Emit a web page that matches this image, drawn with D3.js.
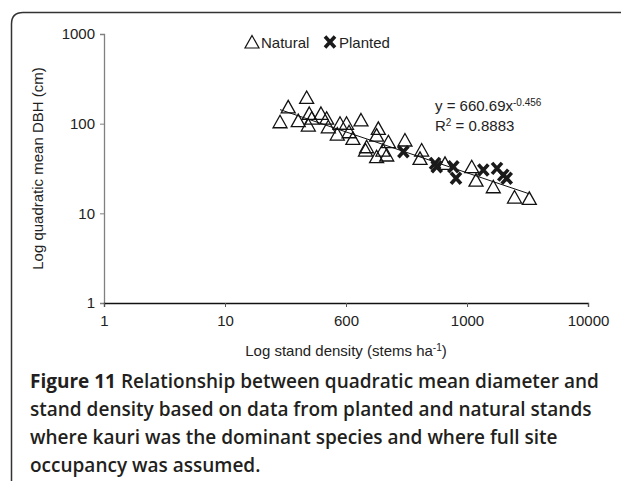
<!DOCTYPE html>
<html>
<head>
<meta charset="utf-8">
<script src="https://cdn.jsdelivr.net/npm/d3@7/dist/d3.min.js"></script>
<style>
  body { margin: 0; background: #fff; }
  svg { display: block; }
  .tick text { font-family: "Liberation Sans", Arial, sans-serif; font-size: 15px; fill: #222; }
</style>
</head>
<body>
<svg id="chart" width="621" height="481"></svg>
<script>
// natural stands (stems/ha, quadratic mean DBH cm)
const naturalDensity = [28.5, 33.3, 47.3, 40.3, 49.7, 48.8, 52.1, 62.1, 69.2, 71.4, 89.2, 101, 84.7, 106, 114, 133,
  185, 179, 148, 145, 179, 224, 217, 202, 307, 422, 409, 658, 1094, 1187, 1649, 2470, 3273];
const naturalDbh = [105, 154, 196, 108, 130, 96.5, 115, 130, 115, 92.3, 101, 101, 76.6, 81.3, 68.6, 110,
  88.7, 74.6, 55.3, 50.8, 42.8, 62.9, 44.7, 50.8, 65.7, 50.8, 41.0, 36.1, 33.1, 23.5, 19.8, 15.2, 14.7];

// planted stands
const plantedDensity = [298, 544, 562, 771, 811, 1364, 1770, 1995, 2129];
const plantedDbh = [48.6, 36.1, 33.1, 33.1, 24.6, 30.4, 31.7, 26.7, 24.6];

// power trend line y = a x^b
const trendA = 660.69;
const trendB = -0.456;

const xTicks = [1, 10, 100, 1000, 10000];
const xTickLabels = ['1', '10', '600', '1000', '10000'];
const yTicks = [1, 10, 100, 1000];

const captionLines = [
  ['Figure 11', ' Relationship between quadratic mean diameter and'],
  ['', 'stand density based on data from planted and natural stands'],
  ['', 'where kauri was the dominant species and where full site'],
  ['', 'occupancy was assumed.']
];

const svg = d3.select('#chart');
const font = '"Liberation Sans", Arial, sans-serif';

// card frame
svg.append('path')
  .attr('d', 'M11.5,481 V24 Q11.5,12.5 23,12.5 H621')
  .attr('fill', 'none').attr('stroke', '#333').attr('stroke-width', 1.5);

const plotL = 104, plotR = 588, plotT = 34, plotB = 303;
const xScale = d3.scaleLog().domain([1, 10000]).range([plotL, plotR]);
const yScale = d3.scaleLog().domain([1, 1000]).range([plotB, plotT]);

const yAxis = d3.axisLeft(yScale).tickValues(yTicks).tickFormat(d3.format('d')).tickSizeOuter(0).tickSize(4).tickPadding(5);
const xAxis = d3.axisBottom(xScale).tickValues(xTicks).tickFormat((d, i) => xTickLabels[i]).tickSizeOuter(0).tickSize(4).tickPadding(8);

const gy = svg.append('g').attr('transform', `translate(${plotL},0)`).call(yAxis);
gy.select('.domain').attr('stroke', '#808080').attr('stroke-width', 1.3);
gy.selectAll('.tick line').attr('stroke', '#808080');

const gx = svg.append('g').attr('transform', `translate(0,${plotB})`).call(xAxis);
gx.select('.domain').attr('stroke', '#111').attr('stroke-width', 1.3);
gx.selectAll('.tick line').attr('stroke', '#555');

// axis titles
svg.append('text')
  .attr('transform', `translate(43,${(plotT + plotB) / 2}) rotate(-90)`)
  .attr('text-anchor', 'middle')
  .style('font-family', font).style('font-size', '15px').attr('fill', '#222')
  .text('Log quadratic mean DBH (cm)');

const xt = svg.append('text')
  .attr('x', (plotL + plotR) / 2).attr('y', 356)
  .attr('text-anchor', 'middle')
  .style('font-family', font).style('font-size', '15px').attr('fill', '#222');
xt.append('tspan').text('Log stand density (stems ha');
xt.append('tspan').attr('dy', -5).style('font-size', '10px').text('-1');
xt.append('tspan').attr('dy', 5).text(')');

// trend line
const trendX = [d3.min(naturalDensity), d3.max(naturalDensity)];
const line = d3.line().x(d => xScale(d)).y(d => yScale(trendA * Math.pow(d, trendB)));
svg.append('path').attr('d', line(trendX)).attr('fill', 'none').attr('stroke', '#111').attr('stroke-width', 1);

const triPath = 'M0,-6.5L7,6L-7,6Z';
const xPath = 'M-5,-5.5L5,5.5M-5,5.5L5,-5.5';

const natural = naturalDensity.map((d, i) => ({x: d, y: naturalDbh[i]}));
const planted = plantedDensity.map((d, i) => ({x: d, y: plantedDbh[i]}));

svg.append('g').selectAll('path').data(natural).join('path')
  .attr('transform', d => `translate(${xScale(d.x)},${yScale(d.y)})`)
  .attr('d', triPath).attr('fill', 'none').attr('stroke', '#111').attr('stroke-width', 1.3);

svg.append('g').selectAll('path').data(planted).join('path')
  .attr('transform', d => `translate(${xScale(d.x)},${yScale(d.y)})`)
  .attr('d', xPath).attr('fill', 'none').attr('stroke', '#1a1a1a').attr('stroke-width', 3.6);

// legend
const lg = svg.append('g').attr('transform', 'translate(252,42)');
lg.append('path').attr('d', triPath).attr('fill', 'none').attr('stroke', '#111').attr('stroke-width', 1.2);
lg.append('text').attr('x', 9).attr('y', 5.5).style('font-family', font).style('font-size', '15px').attr('fill', '#222').text('Natural');
lg.append('path').attr('transform', 'translate(78,0)').attr('d', xPath).attr('fill', 'none').attr('stroke', '#1a1a1a').attr('stroke-width', 3.6);
lg.append('text').attr('x', 87).attr('y', 5.5).style('font-family', font).style('font-size', '15px').attr('fill', '#222').text('Planted');

// equation
const eq = svg.append('text').attr('x', 435).attr('y', 111)
  .style('font-family', font).style('font-size', '15px').attr('fill', '#222');
eq.append('tspan').text('y = 660.69x');
eq.append('tspan').attr('dy', -5).style('font-size', '10px').text('-0.456');
const r2 = svg.append('text').attr('x', 435).attr('y', 131)
  .style('font-family', font).style('font-size', '15px').attr('fill', '#222');
r2.append('tspan').text('R');
r2.append('tspan').attr('dy', -5).style('font-size', '10px').text('2');
r2.append('tspan').attr('dy', 5).text(' = 0.8883');

// caption
captionLines.forEach((l, i) => {
  const t = svg.append('text').attr('x', 30).attr('y', 388 + i * 28)
    .style('font-family', '"Open Sans", sans-serif').style('font-size', '19px').attr('fill', '#231f20');
  if (l[0]) t.append('tspan').style('font-weight', 700).text(l[0]);
  t.append('tspan').style('font-weight', 600).text(l[1]);
});
</script>
</body>
</html>
